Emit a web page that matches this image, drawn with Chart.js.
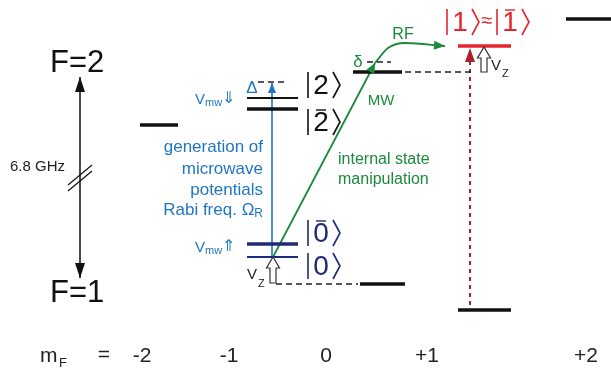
<!DOCTYPE html>
<html>
<head>
<meta charset="utf-8">
<script src="https://cdn.jsdelivr.net/npm/chart.js@4.4.1/dist/chart.umd.min.js"></script>
<style>
  html, body { margin: 0; padding: 0; background: #fff; }
</style>
</head>
<body>
<canvas id="levelChart" width="611" height="374"></canvas>
<script>
// diagram units: x along the m_F row, energy downwards from the top (0..374)
const levelNames = ['F2 -2', '|2bar>', '|2>', 'F2 0', 'F2 +1', 'F2 +2', '|0bar>', '|0>', 'F1 0', 'F1 +1'];
const levelX0 = [140, 247, 247, 353, 458, 566, 247, 247, 360, 458];
const levelX1 = [178, 298, 298, 402, 511, 611, 298, 298, 405, 511];
const levelE = [125, 109, 98, 72, 46, 19, 244, 257, 284, 310];
const levelColor = ['#111', '#111', '#111', '#111', '#e4252f', '#111', '#1d2a77', '#1d2a77', '#111', '#111'];
const levelWidth = [3.5, 3.5, 2, 3.5, 3.5, 3.5, 3.5, 2, 3.5, 3.5];

// dashed guide lines
const dashX0 = [258, 367, 405, 276];
const dashX1 = [288, 391, 472, 358];
const dashE = [82, 62, 72, 284];

// m_F tick labels
const mfLabels = ['-2', '-1', '0', '+1', '+2'];
const mfPos = [142, 229, 326, 427, 586];

// transitions
const mwPath = [[273, 257], [375, 63]];
const rfPath = [[375, 63], [388, 48], [405, 43], [445, 46]];
const rabiArrow = [[272, 257], [272, 83]];
const rfResonance = [[470, 305], [470, 48]];
const hfsArrow = [[80, 77], [80, 278]];

// Zeeman shift arrows: x, from, to
const vzX = [273, 484];
const vzFrom = [283, 72];
const vzTo = [257, 47];

// kets
const ketX = [308, 308, 308, 308];
const ketE = [85, 122, 233, 266];
const ketDigit = ['2', '2', '0', '0'];
const ketBar = [false, true, true, false];
const ketColor = ['#111', '#111', '#1d2a77', '#1d2a77'];

const blue = '#1f76c2';
const green = '#1b8a3c';
const darkRed = '#a9232f';
const FONT = '"Liberation Sans", Arial, sans-serif';

function pathToData(p) {
    return p.map(pt => ({ x: pt[0], y: pt[1] }));
}

const datasets = [];
levelNames.forEach((name, i) => {
    datasets.push({
        label: name,
        data: [{ x: levelX0[i], y: levelE[i] }, { x: levelX1[i], y: levelE[i] }],
        borderColor: levelColor[i],
        borderWidth: levelWidth[i],
        borderCapStyle: 'butt'
    });
});
dashE.forEach((e, i) => {
    datasets.push({
        label: 'guide' + i,
        data: [{ x: dashX0[i], y: e }, { x: dashX1[i], y: e }],
        borderColor: '#222',
        borderWidth: 1.3,
        borderDash: [6, 4]
    });
});
datasets.push({ label: 'MW', data: pathToData(mwPath), borderColor: green, borderWidth: 1.8 });
datasets.push({ label: 'RF', data: pathToData(rfPath), borderColor: green, borderWidth: 1.8, cubicInterpolationMode: 'monotone' });
datasets.push({ label: 'Rabi', data: pathToData(rabiArrow), borderColor: blue, borderWidth: 1.6 });
datasets.push({ label: 'res', data: pathToData([rfResonance[0], [470, 62]]), borderColor: darkRed, borderWidth: 2, borderDash: [4, 4] });
datasets.push({ label: 'hfs', data: pathToData(hfsArrow), borderColor: '#111', borderWidth: 1.5 });

function head(ctx, x1, y1, x2, y2, len, half, color) {
    const a = Math.atan2(y2 - y1, x2 - x1);
    ctx.save();
    ctx.fillStyle = color;
    ctx.beginPath();
    ctx.moveTo(x2, y2);
    ctx.lineTo(x2 - len * Math.cos(a) + half * Math.sin(a), y2 - len * Math.sin(a) - half * Math.cos(a));
    ctx.lineTo(x2 - len * Math.cos(a) - half * Math.sin(a), y2 - len * Math.sin(a) + half * Math.cos(a));
    ctx.closePath();
    ctx.fill();
    ctx.restore();
}

function text(ctx, str, x, y, size, color, align) {
    ctx.font = size + 'px ' + FONT;
    ctx.fillStyle = color;
    ctx.textAlign = align || 'left';
    ctx.textBaseline = 'middle';
    ctx.fillText(str, x, y);
}

function line(ctx, x1, y1, x2, y2, color, w) {
    ctx.strokeStyle = color;
    ctx.lineWidth = w;
    ctx.beginPath();
    ctx.moveTo(x1, y1);
    ctx.lineTo(x2, y2);
    ctx.stroke();
}

function ket(ctx, x, y, digit, bar, color) {
    line(ctx, x, y - 13, x, y + 13, color, 1.6);
    text(ctx, digit, x + 13, y + 1, 28, color, 'center');
    if (bar) line(ctx, x + 8, y - 12, x + 18, y - 12, color, 1.4);
    ctx.beginPath();
    ctx.moveTo(x + 25, y - 13);
    ctx.lineTo(x + 32, y);
    ctx.lineTo(x + 25, y + 13);
    ctx.lineWidth = 1.6;
    ctx.stroke();
}

const annotations = {
    id: 'annotations',
    afterDatasetsDraw(chart) {
        const ctx = chart.ctx;
        const X = v => chart.scales.x.getPixelForValue(v);
        const Y = v => chart.scales.y.getPixelForValue(v);
        ctx.save();

        // arrow heads
        head(ctx, X(mwPath[0][0]), Y(mwPath[0][1]), X(mwPath[1][0]), Y(mwPath[1][1]), 10, 4.5, green);
        head(ctx, X(rfPath[2][0]), Y(rfPath[2][1]), X(rfPath[3][0]), Y(rfPath[3][1]), 11, 4.5, green);
        head(ctx, X(rabiArrow[0][0]), Y(rabiArrow[0][1]), X(rabiArrow[1][0]), Y(rabiArrow[1][1]), 10, 4, blue);
        head(ctx, X(rfResonance[0][0]), Y(rfResonance[0][1]), X(rfResonance[1][0]), Y(rfResonance[1][1]), 14, 5, darkRed);
        head(ctx, X(hfsArrow[0][0]), Y(hfsArrow[0][1]), X(hfsArrow[1][0]), Y(hfsArrow[1][1]), 15, 5, '#111');
        head(ctx, X(hfsArrow[1][0]), Y(hfsArrow[1][1]), X(hfsArrow[0][0]), Y(hfsArrow[0][1]), 15, 5, '#111');

        // break marks on the hyperfine arrow
        line(ctx, X(68), Y(191), X(92), Y(171), '#111', 1.2);
        line(ctx, X(68), Y(185), X(92), Y(165), '#111', 1.2);

        // hollow Zeeman arrows
        vzX.forEach((vx, i) => {
            const x = X(vx), yb = Y(vzFrom[i]), yt = Y(vzTo[i]);
            ctx.beginPath();
            ctx.moveTo(x - 3, yb);
            ctx.lineTo(x - 3, yt + 11);
            ctx.lineTo(x - 6.5, yt + 11);
            ctx.lineTo(x, yt);
            ctx.lineTo(x + 6.5, yt + 11);
            ctx.lineTo(x + 3, yt + 11);
            ctx.lineTo(x + 3, yb);
            ctx.closePath();
            ctx.fillStyle = '#fff';
            ctx.fill();
            ctx.strokeStyle = '#333';
            ctx.lineWidth = 1.2;
            ctx.stroke();
        });

        // kets
        ketX.forEach((kx, i) => ket(ctx, X(kx), Y(ketE[i]), ketDigit[i], ketBar[i], ketColor[i]));
        const red = '#e4252f';
        ket(ctx, X(447), Y(22), '1', false, red);
        text(ctx, '\u2248', X(487), Y(21), 20, red, 'center');
        ket(ctx, X(497), Y(22), '1', true, red);

        // hyperfine labels
        text(ctx, 'F=2', X(50), Y(63), 31, '#111');
        text(ctx, 'F=1', X(50), Y(293), 31, '#111');
        text(ctx, '6.8 GHz', X(10), Y(167), 15, '#222');

        // microwave annotation
        const lines = ['generation of', 'microwave', 'potentials'];
        const ly = [147, 169, 190];
        lines.forEach((s, i) => text(ctx, s, X(263), Y(ly[i]), 17, blue, 'right'));
        ctx.font = '12px ' + FONT;
        const rw = ctx.measureText('R').width;
        text(ctx, 'Rabi freq. \u03A9', X(263) - rw, Y(210), 17, blue, 'right');
        text(ctx, 'R', X(263) - rw, Y(214), 12, blue, 'left');

        ['\u21D3', '\u21D1'].forEach((arrow, i) => {
            const yy = i === 0 ? 100 : 248;
            text(ctx, 'V', X(195), Y(yy), 15, blue);
            text(ctx, 'mw', X(205), Y(yy + 3), 11, blue);
            text(ctx, arrow, X(222), Y(yy - 1), 16, blue);
        });
        text(ctx, '\u0394', X(252), Y(88), 17, blue, 'center');

        // green labels
        text(ctx, 'internal state', X(338), Y(160), 16, green);
        text(ctx, 'manipulation', X(338), Y(180), 16, green);
        text(ctx, 'MW', X(381), Y(101), 15, green, 'center');
        text(ctx, 'RF', X(403), Y(35), 16, green, 'center');
        text(ctx, '\u03B4', X(358), Y(62), 17, green, 'center');

        // Zeeman labels
        text(ctx, 'V', X(247), Y(275), 15, '#222');
        text(ctx, 'Z', X(258), Y(284), 11, '#222');
        text(ctx, 'V', X(491), Y(66), 15, '#222');
        text(ctx, 'Z', X(502), Y(74), 11, '#222');

        // m_F row
        text(ctx, 'm', X(40), Y(356), 21, '#222');
        text(ctx, 'F', X(59), Y(363), 13, '#222');
        text(ctx, '=', X(104), Y(355), 21, '#222', 'center');
        mfLabels.forEach((s, i) => text(ctx, s, X(mfPos[i]), Y(356), 21, '#222', 'center'));

        ctx.restore();
    }
};

new Chart(document.getElementById('levelChart'), {
    type: 'scatter',
    data: { datasets: datasets.map(d => Object.assign({ showLine: true, pointRadius: 0, fill: false }, d)) },
    options: {
        responsive: false,
        animation: false,
        layout: { padding: 0 },
        plugins: { legend: { display: false }, tooltip: { enabled: false } },
        scales: {
            x: { type: 'linear', min: 0, max: 611, display: false },
            y: { type: 'linear', min: 0, max: 374, reverse: true, display: false }
        }
    },
    plugins: [annotations]
});
</script>
</body>
</html>
